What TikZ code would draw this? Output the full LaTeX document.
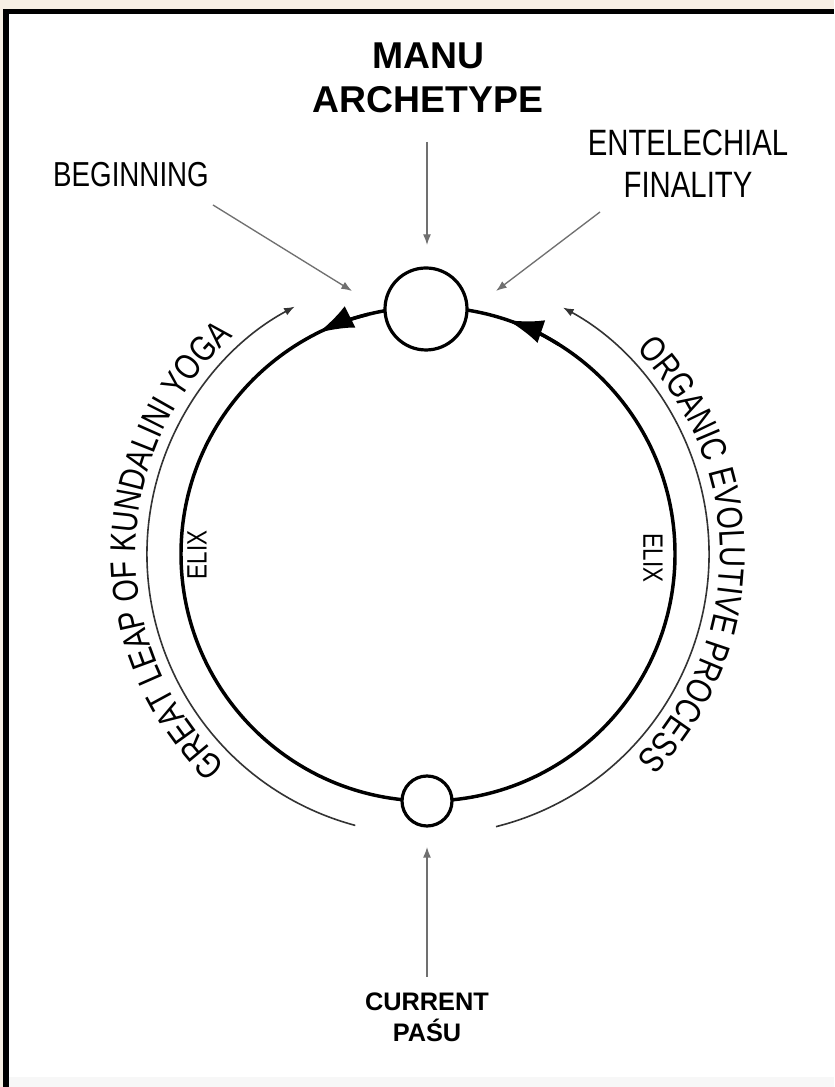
\documentclass[tikz,border=0pt]{standalone}
\usepackage{fontspec}
\setmainfont{Liberation Sans}
\newfontfamily\nar[FakeStretch=0.8]{Liberation Sans}
\usetikzlibrary{arrows.meta,decorations.text,calc}
\definecolor{beige}{HTML}{F7EFE4}
\definecolor{arrgray}{HTML}{707070}
\definecolor{arcgray}{HTML}{333333}
\begin{document}
\begin{tikzpicture}[x=0.75pt,y=0.75pt,
  ptr/.style={draw=arrgray, line width=1pt, -{Latex[length=8pt,width=6pt]}},
  outerarc/.style={draw=arcgray, line width=1.2pt, -{Latex[length=8pt,width=6pt]}},
  cycle/.style={draw=black, line width=2.6pt},
  cyclearrow/.style={cycle, -{Latex[length=27pt,width=18pt]}},
  station/.style={circle, draw=black, line width=2.4pt, fill=white, inner sep=0pt},
  plain/.style={font=\nar\fontsize{26}{31.5}\selectfont, align=center, inner sep=0pt},
  heavy/.style={font=\bfseries, align=center, inner sep=0pt},
  elix/.style={font=\nar\fontsize{21}{24}\selectfont, inner sep=0pt}]
\useasboundingbox (0,0) rectangle (834,1087);
% frame
\fill[beige] (0,0) rectangle (834,1087);
\fill[white] (3,0) rectangle (834,1078);
\fill[black!3] (9,0) rectangle (834,10);
\fill[black] (3,0) rectangle (9,1078);
\fill[black] (3,1073) rectangle (834,1078);
% main cycle
\coordinate (C) at (428,533);
\draw[cycle] (C) circle[radius=247];
\node[station, minimum size=61.5pt] (T) at (426,778) {};
\node[station, minimum size=37.5pt] (B) at (427,286) {};
\draw[cyclearrow] ($(C)+(104:247)$) arc[start angle=104, end angle=116.5, radius=247];
\draw[cyclearrow] ($(C)+(58:247)$) arc[start angle=58, end angle=71.3, radius=247];
% outer arcs
\draw[outerarc] ($(C)+(255:281)$) arc[start angle=255, end angle=118.3, radius=281];
\draw[outerarc] ($(C)+(-76:281)$) arc[start angle=-76, end angle=61.3, radius=281];
% curved texts
\path[decorate, decoration={text along path, text align=center,
  text={|\nar\fontsize{27}{31}\selectfont|GREAT LEAP OF KUNDALINI YOGA}}]
  ($(C)+(259:292)$) arc[start angle=259, end angle=99, radius=292];
\path[decorate, decoration={text along path, text align=center,
  text={|\nar\fontsize{27}{31}\selectfont|ORGANIC EVOLUTIVE PROCESS}}]
  ($(C)+(80:292)$) arc[start angle=80, end angle=-80, radius=292];
% labels
\node[heavy, font=\bfseries\fontsize{28}{32.5}\selectfont] (manu) at (428,1009) {MANU\\ARCHETYPE};
\node[plain] (beg) at (131,912) {BEGINNING};
\node[plain, font=\nar\fontsize{27.5}{31.5}\selectfont] (ent) at (688,923) {ENTELECHIAL\\FINALITY};
\node[heavy, font=\bfseries\fontsize{19}{23}\selectfont] (pasu) at (427,70) {CURRENT\\PAŚU};
\node[elix, rotate=90] (elixL) at (197,532) {ELIX};
\node[elix, rotate=-90] (elixR) at (653,529) {ELIX};
% pointers
\coordinate (manuS) at (427,945); \coordinate (manuE) at (427,842);
\coordinate (begS) at (213,882); \coordinate (begE) at (352,796);
\coordinate (entS) at (600,875); \coordinate (entE) at (496,796);
\coordinate (pasuS) at (427,110); \coordinate (pasuE) at (427,240);
\draw[ptr] (manuS) -- (manuE);
\draw[ptr] (begS) -- (begE);
\draw[ptr] (entS) -- (entE);
\draw[ptr] (pasuS) -- (pasuE);
\end{tikzpicture}
\end{document}
